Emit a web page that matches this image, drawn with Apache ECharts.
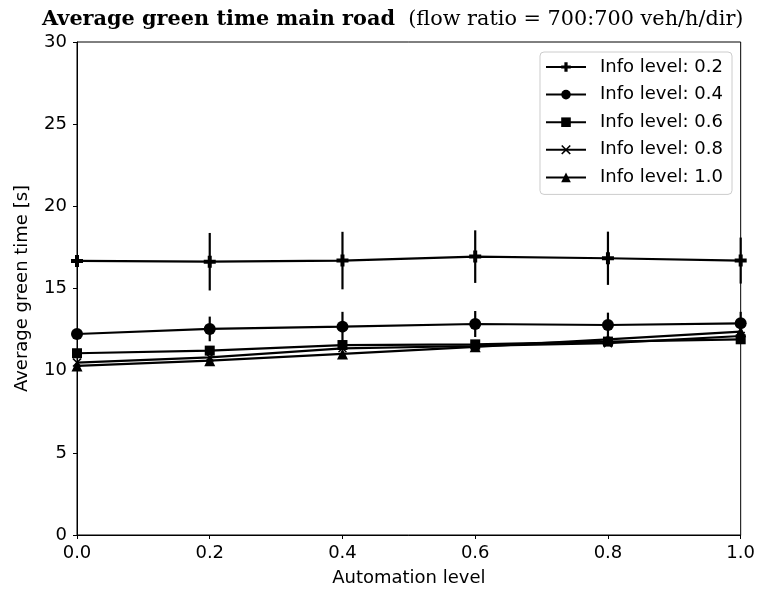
<!DOCTYPE html>
<html>
<head>
<meta charset="utf-8">
<script src="https://cdn.jsdelivr.net/npm/echarts@6/dist/echarts.min.js"></script>
<style>html,body{margin:0;padding:0;background:#fff}#c{width:758px;height:595px}</style>
</head>
<body>
<div id="c"></div>
<script>
var automation = [0.0, 0.2, 0.4, 0.6, 0.8, 1.0];
var xTicks = ['0.0', '0.2', '0.4', '0.6', '0.8', '1.0'];
var seriesNames = ['Info level: 0.2', 'Info level: 0.4', 'Info level: 0.6', 'Info level: 0.8', 'Info level: 1.0'];
var info02 = [16.68, 16.63, 16.70, 16.94, 16.84, 16.70];
var info04 = [12.23, 12.54, 12.68, 12.84, 12.78, 12.88];
var info06 = [11.06, 11.22, 11.56, 11.60, 11.77, 11.91];
var info08 = [10.49, 10.81, 11.36, 11.50, 11.67, 12.11];
var info10 = [10.29, 10.61, 11.02, 11.45, 11.91, 12.37];
var err02 = [0, 1.75, 1.75, 1.6, 1.62, 1.4];
var err04 = [0, 0.75, 0.9, 0.79, 0.75, 0.7];

var values = [info02, info04, info06, info08, info10];
var errors = [err02, err04];
var symbols = [
  'path://M-1,-3H1V-1H3V1H1V3H-1V1H-3V-1H-1Z',
  'circle',
  'rect',
  'path://M-3,-2.3L-2.3,-3L0,-0.7L2.3,-3L3,-2.3L0.7,0L3,2.3L2.3,3L0,0.7L-2.3,3L-3,2.3L-0.7,0Z',
  'triangle'
];
var sizes = [12, 12, 10, 9, 11];

var series = [];
values.forEach(function (v, i) {
  series.push({
    name: seriesNames[i],
    type: 'line',
    data: automation.map(function (x, j) { return [x, v[j]]; }),
    symbol: symbols[i],
    symbolSize: sizes[i],
    showAllSymbol: true,
    lineStyle: { color: '#000', width: 2.2 },
    itemStyle: { color: '#000' },
    z: 3
  });
});
errors.forEach(function (e, i) {
  var v = values[i];
  var d = [];
  automation.forEach(function (x, j) { if (e[j] > 0) d.push([x, v[j] - e[j], v[j] + e[j]]); });
  series.push({
    type: 'custom',
    name: 'err' + i,
    data: d,
    encode: { x: 0, y: [1, 2] },
    clip: false,
    z: 2,
    renderItem: function (params, api) {
      var a = api.coord([api.value(0), api.value(1)]);
      var b = api.coord([api.value(0), api.value(2)]);
      return { type: 'line', shape: { x1: a[0], y1: a[1], x2: b[0], y2: b[1] },
        style: { stroke: '#000', lineWidth: 2.2 } };
    }
  });
});

var chart = echarts.init(document.getElementById('c'), null, { renderer: 'canvas' });
chart.setOption({
  animation: false,
  backgroundColor: '#fff',
  title: {
    text: '{b|Average green time main road}{n|  (flow ratio = 700:700 veh/h/dir)}',
    left: 42, top: 9,
    padding: 0,
    textStyle: {
      rich: {
        b: { fontFamily: 'DejaVu Serif', fontWeight: 'bold', fontSize: 20.8, color: '#000' },
        n: { fontFamily: 'DejaVu Serif', fontWeight: 'normal', fontSize: 20.8, color: '#000' }
      }
    }
  },
  grid: { left: 77, right: 16, top: 42, bottom: 60, show: true, borderColor: '#000', borderWidth: 1, containLabel: false },
  legend: {
    data: seriesNames,
    orient: 'vertical',
    right: 26, top: 52,
    padding: [6, 9, 8, 5],
    itemGap: 9.6,
    itemWidth: 40, itemHeight: 12,
    backgroundColor: '#fff',
    borderColor: '#cccccc', borderWidth: 1, borderRadius: 4,
    textStyle: { fontFamily: 'DejaVu Sans', fontSize: 18, color: '#000', padding: [0, 0, 0, 9] }
  },
  xAxis: {
    type: 'value', min: 0, max: 1, interval: 0.2,
    name: 'Automation level', nameLocation: 'middle', nameGap: 34,
    nameTextStyle: { fontFamily: 'DejaVu Sans', fontSize: 18, color: '#000' },
    axisLine: { show: true, lineStyle: { color: '#000', width: 1 } },
    axisTick: { show: true, length: 4, lineStyle: { color: '#000' } },
    axisLabel: { fontFamily: 'DejaVu Sans', fontSize: 18, color: '#000', margin: 9,
      formatter: function (v) { return xTicks[Math.round(v / 0.2)]; } },
    splitLine: { show: false }
  },
  yAxis: {
    type: 'value', min: 0, max: 30, interval: 5,
    name: 'Average green time [s]', nameLocation: 'middle', nameGap: 46,
    nameTextStyle: { fontFamily: 'DejaVu Sans', fontSize: 18, color: '#000' },
    axisLine: { show: true, lineStyle: { color: '#000', width: 1 } },
    axisTick: { show: true, length: 4, lineStyle: { color: '#000' } },
    axisLabel: { fontFamily: 'DejaVu Sans', fontSize: 18, color: '#000', margin: 10 },
    splitLine: { show: false }
  },
  series: series
});
</script>
</body>
</html>
